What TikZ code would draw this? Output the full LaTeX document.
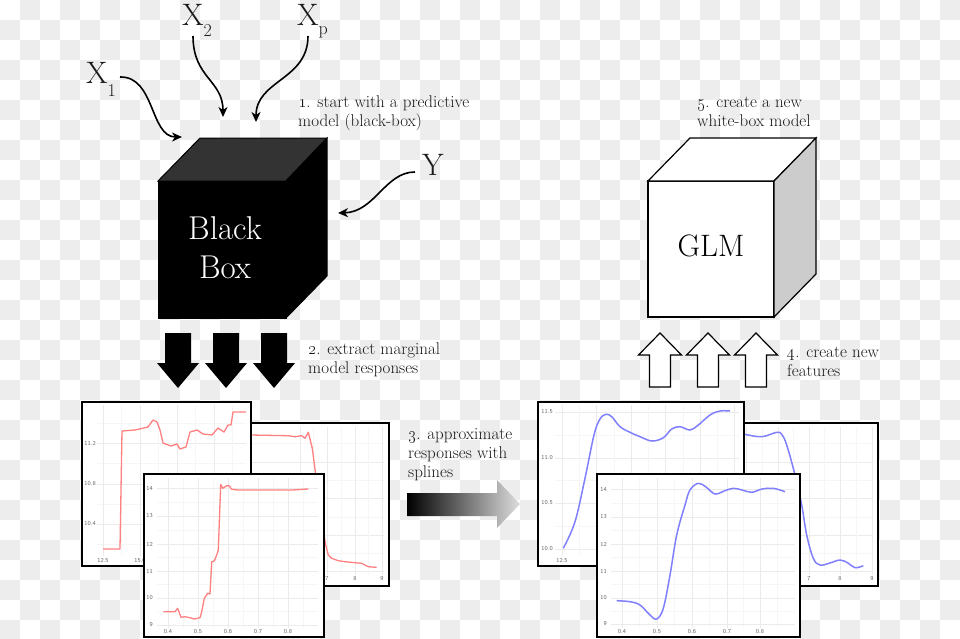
\documentclass[tikz,border=0pt]{standalone}
\usetikzlibrary{arrows.meta}
\definecolor{cg}{HTML}{EDEDED}
\definecolor{txt}{HTML}{1A1A1A}
\definecolor{topgrey}{HTML}{333333}
\definecolor{sidegrey}{HTML}{CCCCCC}
\definecolor{gmajc}{HTML}{EBEBEB}
\definecolor{gminc}{HTML}{F6F6F6}
\definecolor{redc}{HTML}{FF8080}
\definecolor{bluec}{HTML}{8080FF}
\definecolor{tickc}{HTML}{666666}
\tikzset{
 lbltext/.style={anchor=base west, align=left, inner sep=0pt, text=txt, font=\fontsize{17}{19}\selectfont},
 varlbl/.style={anchor=base west, inner sep=0pt, text=txt, font=\fontsize{31}{31}\selectfont},
 curvarrow/.style={line width=1.6pt, -{Stealth[length=10pt,width=9pt,inset=3pt]}},
 plotframe/.style={draw=black, fill=white, line width=1.4pt},
 gmaj/.style={draw=gmajc, line width=0.6pt},
 gmin/.style={draw=gminc, line width=0.4pt},
 ticklbl/.style={inner sep=0pt, text=tickc, font=\fontsize{6}{6}\sffamily},
 redcurve/.style={draw=redc, line width=1.3pt, line join=round},
 bluecurve/.style={draw=bluec, line width=1.5pt},
 downarr/.style={fill=black},
 uparr/.style={fill=white, draw=black, line width=1.2pt},
}
\begin{document}
\begin{tikzpicture}[x=1pt,y=-1pt]
\useasboundingbox (0,0) rectangle (960,638);
% checkerboard background
\fill[white] (0,0) rectangle (960,638);
\foreach \j in {0,2,...,30}{\foreach \i in {1,3,...,47}{\fill[cg] (\i*20,\j*20) rectangle ++(20,20);}}
\foreach \j in {1,3,...,31}{\foreach \i in {0,2,...,46}{\fill[cg] (\i*20,\j*20) rectangle ++(20,20);}}

% ---------- input labels ----------
\node[varlbl] (x1) at (86,83) {X\raisebox{-13pt}{\fontsize{18}{18}\selectfont 1}};
\node[varlbl] (x2) at (182,25) {X\raisebox{-11pt}{\fontsize{18}{18}\selectfont 2}};
\node[varlbl] (xp) at (297,25) {X\raisebox{-9pt}{\fontsize{18}{18}\selectfont p}};
\node[varlbl] (yv) at (422,175) {Y};

\coordinate (x1s) at (120,77);  \coordinate (x1t) at (182,137);
\coordinate (x2s) at (193,36);  \coordinate (x2t) at (223,117);
\coordinate (xps) at (308,36);  \coordinate (xpt) at (256,122);
\coordinate (ys)  at (415,172); \coordinate (yt)  at (338,213);
\draw[curvarrow] (x1s) .. controls (155,76) and (150,137) .. (x1t);
\draw[curvarrow] (x2s) .. controls (193,78) and (223,80) .. (x2t);
\draw[curvarrow] (xps) .. controls (308,80) and (256,80) .. (xpt);
\draw[curvarrow] (ys) .. controls (385,172) and (375,212) .. (yt);

% ---------- black box ----------
\filldraw[fill=black, draw=black, line width=1pt] (158,181) rectangle (286,318);
\filldraw[fill=topgrey, draw=black, line width=1pt] (158,181) -- (200,138) -- (327,138) -- (286,181) -- cycle;
\filldraw[fill=black, draw=black, line width=1pt] (286,181) -- (327,138) -- (327,276) -- (286,318) -- cycle;
\node[align=center, text=white, inner sep=0pt, font=\fontsize{33}{39}\selectfont] (bbtext) at (225,248) {Black\\Box};

\node[lbltext] (lab1) at (298,126) {\oldstylenums{1}. start with a predictive\\model (black-box)};

% down arrows
\foreach \c in {178,226,274}{
 \fill[downarr] (\c-13,333) -- (\c+13,333) -- (\c+13,363) -- (\c+21,363) -- (\c,388) -- (\c-21,363) -- (\c-13,363) -- cycle;}
\node[lbltext] (lab2) at (308,373) {\oldstylenums{2}. extract marginal\\model responses};

% ---------- left plots ----------
% plot B (back right)
\path[plotframe] (200,423) rectangle (389,586);
\foreach \y in {443,480,517,553} \draw[gmin] (205,\y) -- (384,\y);
\foreach \y in {462,498,535,571} \draw[gmaj] (205,\y) -- (384,\y);
\foreach \x in {313.5,341,368.5} \draw[gmin] (\x,427) -- (\x,575);
\foreach \x in {300,327,355,382} \draw[gmaj] (\x,427) -- (\x,575);
\foreach \v/\x [count=\k] in {7/327,8/355,9/382} \node[ticklbl] (bx\k) at (\x,579) {\v};
\draw[redcurve] plot coordinates {(245,435) (250.7,435) (288.3,435.7) (295,436.7) (301.7,435.7) (305,438.3) (308.3,432.3) (312.3,448.3) (315.7,475) (321,510) (324,535) (325.7,545) (328.3,555) (331.7,558.3) (338.3,560.7) (345,561.7) (355,562.7) (361.7,563.3) (368.3,566.7) (376.7,567.3)};
% plot A (back left)
\path[plotframe] (82,402) rectangle (251,566);
\foreach \y in {423,463.5,504,544} \draw[gmin] (97,\y) -- (246,\y);
\foreach \y in {443,484,524} \draw[gmaj] (97,\y) -- (246,\y);
\foreach \x in {121.5,158.5,195.5,232.5} \draw[gmin] (\x,405) -- (\x,556);
\foreach \x in {103,140,177,214} \draw[gmaj] (\x,405) -- (\x,556);
\foreach \v/\y [count=\k] in {11.2/443,10.8/484,10.4/524} \node[ticklbl,anchor=east] (ay\k) at (96,\y) {\v};
\foreach \v/\x [count=\k] in {12.5/103,15.0/140} \node[ticklbl] (ax\k) at (\x,561) {\v};
\draw[redcurve] plot coordinates {(103,549) (120,549) (122,431) (135,430) (148,427) (153,420) (157,422) (160,430) (163,443) (171,446) (177,444) (180,449) (186,447) (190,432) (197,430) (203,434) (212,435) (218,428) (224,432) (228,425) (231,425) (233,412) (246,412)};
% plot C (front)
\path[plotframe] (144,474) rectangle (324,637);
\foreach \y in {502,530,557.5,584.5,611.5} \draw[gmin] (157,\y) -- (318,\y);
\foreach \x in {183,213,243,273,303} \draw[gmin] (\x,478) -- (\x,628);
\foreach \y in {488,516,544,571,598,625} \draw[gmaj] (157,\y) -- (318,\y);
\foreach \x in {168,198,228,258,288} \draw[gmaj] (\x,478) -- (\x,628);
\foreach \v/\y [count=\k] in {14/488,13/516,12/544,11/571,10/598,9/625} \node[ticklbl,anchor=east] (cy\k) at (153,\y) {\v};
\foreach \v/\x [count=\k] in {0.4/168,0.5/198,0.6/228,0.7/258,0.8/288} \node[ticklbl] (cx\k) at (\x,632) {\v};
\draw[redcurve] plot coordinates {(163.3,611.7) (175,611.7) (177.7,608.3) (181,617.3) (185,616.7) (190,617.7) (194.3,619) (200,617.7) (201.7,611.7) (204.3,598.3) (207.7,593.3) (210,594) (211.7,561.7) (214.3,561) (216.7,555) (218.3,550) (220.7,484.3) (222.7,488.3) (226.7,485.7) (229,485.7) (231.7,489.3) (238.3,490) (291.7,490) (308.3,489)};

% ---------- gradient arrow ----------
\shade[left color=black, right color=black!13] (407,493) -- (497,493) -- (497,480) -- (520,504) -- (497,528) -- (497,516) -- (407,516) -- cycle;
\node[lbltext] (lab3) at (408,477) {\oldstylenums{3}. approximate\\responses with\\splines};

% ---------- right plots ----------
% plot E (back right)
\path[plotframe] (680,423) rectangle (878,586);
\foreach \y in {443,480,517,553} \draw[gmin] (685,\y) -- (873,\y);
\foreach \y in {462,498,535,571} \draw[gmaj] (685,\y) -- (873,\y);
\foreach \x in {762.5,793.5,824.5,856} \draw[gmin] (\x,427) -- (\x,575);
\foreach \x in {746,778,809,840,872} \draw[gmaj] (\x,427) -- (\x,575);
\foreach \v/\x [count=\k] in {7/809,8/840,9/872} \node[ticklbl] (ex\k) at (\x,579) {\v};
\draw[bluecurve] plot[smooth, tension=0.6] coordinates {(735,433) (744.3,434.3) (761.7,436.7) (776.7,432.3) (781.7,434.3) (786.7,445) (795,475) (801.7,505) (806.7,535) (813.3,558.3) (820,565) (830,563) (840,560) (848,563) (855,567.7) (863.3,565.7)};
% plot D (back left)
\path[plotframe] (538,402) rectangle (744,566);
\foreach \y in {435,480.5,526} \draw[gmin] (555,\y) -- (739,\y);
\foreach \y in {412,458,503,549} \draw[gmaj] (555,\y) -- (739,\y);
\foreach \x in {579.25,613.75,648.25,682.75,717.25} \draw[gmin] (\x,405) -- (\x,556);
\foreach \x in {562,596.5,631,665.5,700,734.5} \draw[gmaj] (\x,405) -- (\x,556);
\foreach \v/\y [count=\k] in {11.5/412,11.0/458,10.5/503,10.0/549} \node[ticklbl,anchor=east] (dy\k) at (553,\y) {\v};
\foreach \v/\x [count=\k] in {12.5/562} \node[ticklbl] (dx\k) at (\x,561) {\v};
\draw[bluecurve] plot[smooth, tension=0.6] coordinates {(563.3,548.3) (575,521.7) (585,478.3) (594,435) (600,419) (606,414.3) (611.7,416.7) (620,426.7) (630,432.3) (640,436.7) (652,441) (663.3,437.7) (671.7,429) (680,426.7) (690,430) (698.3,425) (710,415) (720,411) (730,411)};
% plot F (front)
\path[plotframe] (597,474) rectangle (800,637);
\foreach \y in {503,530.5,557.5,584.5,611} \draw[gmin] (611,\y) -- (795,\y);
\foreach \x in {639.5,674.5,709.5,743.5,777} \draw[gmin] (\x,478) -- (\x,628);
\foreach \y in {489,517,544,571,598,624} \draw[gmaj] (611,\y) -- (795,\y);
\foreach \x in {622,657,692,727,760} \draw[gmaj] (\x,478) -- (\x,628);
\foreach \v/\y [count=\k] in {14/489,13/517,12/544,11/571,10/598,9/624} \node[ticklbl,anchor=east] (fy\k) at (607,\y) {\v};
\foreach \v/\x [count=\k] in {0.4/622,0.5/657,0.6/692,0.7/727,0.8/760} \node[ticklbl] (fx\k) at (\x,632) {\v};
\draw[bluecurve] plot[smooth, tension=0.6] coordinates {(616.7,600.7) (630,601.7) (640,605) (650,615) (656.7,619) (663.3,608.3) (670,575) (676.7,535) (685,505) (690,490) (698.3,483.3) (706,487) (715,494) (724,491) (733.3,488.3) (742,490) (751.7,492.3) (762,489) (773.3,488.3) (785,491.7)};

% ---------- up arrows ----------
\foreach \c in {660,708,756}{
 \filldraw[uparr] (\c-10.5,387) -- (\c+10.5,387) -- (\c+10.5,355) -- (\c+21.5,355) -- (\c,333) -- (\c-21.5,355) -- (\c-10.5,355) -- cycle;}
\node[lbltext] (lab4) at (787,376) {\oldstylenums{4}. create new\\features};

% ---------- GLM box ----------
\filldraw[fill=white, draw=black, line width=1.2pt] (648,181) rectangle (774,317);
\filldraw[fill=white, draw=black, line width=1.2pt] (648,181) -- (690,138) -- (816,138) -- (774,181) -- cycle;
\filldraw[fill=sidegrey, draw=black, line width=1.2pt] (774,181) -- (816,138) -- (816,274) -- (774,317) -- cycle;
\node[inner sep=0pt, text=black, font=\fontsize{31}{31}\selectfont] (glm) at (711,246) {GLM};
\node[lbltext] (lab5) at (697,126) {\oldstylenums{5}. create a new\\white-box model};
\end{tikzpicture}
\end{document}
